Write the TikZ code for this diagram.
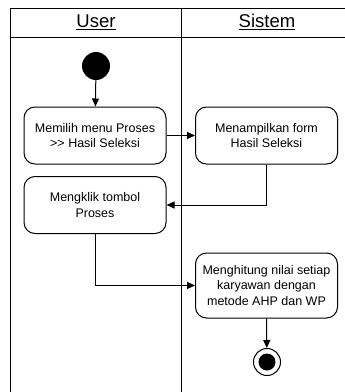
\documentclass[tikz,border=0pt]{standalone}
\usepackage{fontspec}
\setmainfont{Liberation Sans}
\usetikzlibrary{arrows.meta,positioning}
\begin{document}
\begin{tikzpicture}[x=1pt,y=-1pt,
  act/.style={draw, line width=1pt, rounded corners=11pt, minimum width=142pt, minimum height=57pt,
    align=center, font=\fontsize{12.5}{15.5}\selectfont, inner sep=2pt},
  flow/.style={line width=1pt, -{Triangle[length=8pt,width=7pt]}},
  lane/.style={line width=1pt},
  head/.style={font=\fontsize{18.5}{20}\selectfont}]
\useasboundingbox (0,0) rectangle (345,392);
% swimlane frame
\draw[lane] (350,8) -- (10,8) -- (10,400);
\draw[lane] (10,37) -- (350,37);
\draw[lane] (181,8) -- (181,400);
\node[head] (hu) at (96,22) {\underline{User}};
\node[head] (hs) at (267,22) {\underline{Sistem}};
% start and end
\node[circle, fill=black, minimum size=28pt, inner sep=0pt] (start) at (96,66) {};
\node[circle, draw, line width=1pt, minimum size=27pt, inner sep=0pt] (stop) at (267,362) {};
\node[circle, fill=black, minimum size=17pt, inner sep=0pt] (stopin) at (267,362) {};
% activities
\node[act] (a1) at (95,135.5) {Memilih menu Proses\\{>}{>} Hasil Seleksi};
\node[act] (a2) at (266.5,135.5) {Menampilkan form\\Hasil Seleksi};
\node[act] (a3) at (95,205) {Mengklik tombol\\Proses};
\node[act, minimum height=65pt] (a4) at (266.5,285.5) {Menghitung nilai setiap\\karyawan dengan\\metode AHP dan WP};
% flows
\draw[flow] (start) -- (a1);
\draw[flow] (a1) -- (a2);
\draw[flow] (a2.south) |- (a3.east);
\draw[flow] (a3.south) |- (a4.west);
\draw[flow] (a4.south) -- (stop);
\end{tikzpicture}
\end{document}
